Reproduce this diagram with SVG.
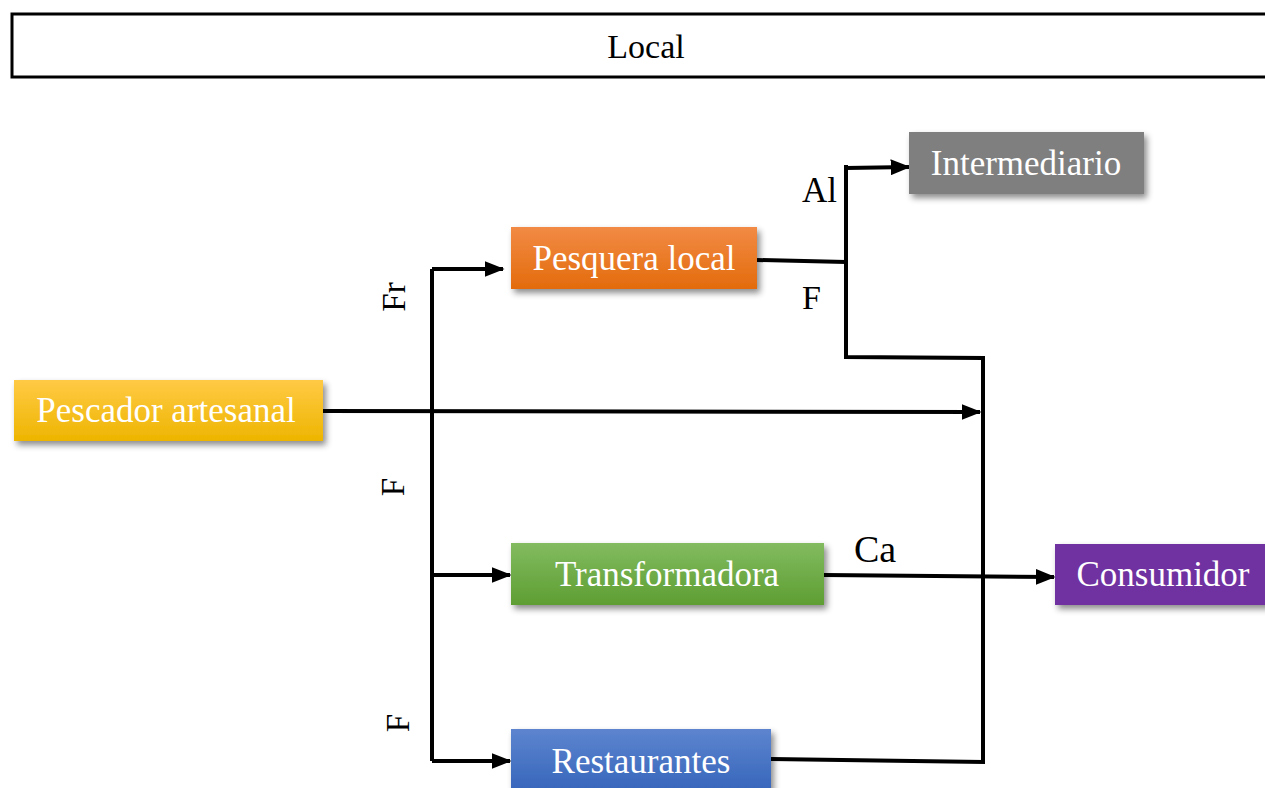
<svg xmlns="http://www.w3.org/2000/svg" width="1265" height="788" viewBox="0 0 1265 788">
<style>
.t{font-family:"Liberation Serif","Times New Roman",serif;font-size:35px;fill:#fff;text-anchor:middle}
.l{font-family:"Liberation Serif","Times New Roman",serif;font-size:34px;fill:#000}
.c{fill:none;stroke:#000;stroke-width:4}
</style>
<defs>
<filter id="sh" x="-10%" y="-20%" width="125%" height="160%">
<feDropShadow dx="3" dy="4" stdDeviation="3" flood-color="#000" flood-opacity="0.45"/>
</filter>
<linearGradient id="gO" x1="0" y1="0" x2="0" y2="1"><stop offset="0" stop-color="#f28b45"/><stop offset="1" stop-color="#e36b0c"/></linearGradient>
<linearGradient id="gY" x1="0" y1="0" x2="0" y2="1"><stop offset="0" stop-color="#ffca45"/><stop offset="1" stop-color="#eeb500"/></linearGradient>
<linearGradient id="gG" x1="0" y1="0" x2="0" y2="1"><stop offset="0" stop-color="#82bb60"/><stop offset="1" stop-color="#5e9e32"/></linearGradient>
<linearGradient id="gB" x1="0" y1="0" x2="0" y2="1"><stop offset="0" stop-color="#5d85cf"/><stop offset="1" stop-color="#3262b8"/></linearGradient>
<marker id="ar" markerWidth="5" markerHeight="4" refX="4.6" refY="2" orient="auto" markerUnits="strokeWidth">
<path d="M0,0 L5,2 L0,4 Z" fill="#000"/>
</marker>
</defs>
<rect width="1265" height="788" fill="#fff"/>

<g id="local">
<rect x="12" y="14" width="1262" height="63" fill="#fff" stroke="#000" stroke-width="3"/>
<text class="l" x="646" y="58" text-anchor="middle">Local</text>
</g>

<g id="connectors">
<path class="c" d="M432,269 V761"/>
<path class="c" d="M432,269 H503" marker-end="url(#ar)"/>
<path class="c" d="M432,575 H510" marker-end="url(#ar)"/>
<path class="c" d="M432,761 H510" marker-end="url(#ar)"/>
<path class="c" d="M323,411 L980,412" marker-end="url(#ar)"/>
<path class="c" d="M757,260 L846,262"/>
<path class="c" d="M846,165 V357 L983,358 V762 L771,759"/>
<path class="c" d="M846,168 L909,167" marker-end="url(#ar)"/>
<path class="c" d="M824,575 L1054,577" marker-end="url(#ar)"/>
<text class="l" x="802" y="202" style="font-size:35px">Al</text>
<text class="l" x="802" y="309">F</text>
<text class="l" x="854" y="562" style="font-size:38px">Ca</text>
<text class="l" transform="translate(405,297) rotate(-90)" text-anchor="middle" style="font-size:33px">Fr</text>
<text class="l" transform="translate(404,487) rotate(-90)" text-anchor="middle" style="font-size:33px">F</text>
<text class="l" transform="translate(409,723) rotate(-90)" text-anchor="middle" style="font-size:33px">F</text>
</g>

<g id="intermediario">
<rect x="909" y="132" width="235" height="62" fill="#7f7f7f" filter="url(#sh)"/>
<text class="t" x="1026" y="175">Intermediario</text>
</g>
<g id="pesquera">
<rect x="511" y="227" width="246" height="62" fill="url(#gO)" filter="url(#sh)"/>
<text class="t" x="634" y="270">Pesquera local</text>
</g>
<g id="pescador">
<rect x="14" y="380" width="309" height="61" fill="url(#gY)" filter="url(#sh)"/>
<text class="t" x="166" y="422">Pescador artesanal</text>
</g>
<g id="transformadora">
<rect x="511" y="543" width="313" height="62" fill="url(#gG)" filter="url(#sh)"/>
<text class="t" x="667" y="586">Transformadora</text>
</g>
<g id="consumidor">
<rect x="1055" y="544" width="220" height="61" fill="#7030a0" filter="url(#sh)"/>
<text class="t" x="1163" y="586">Consumidor</text>
</g>
<g id="restaurantes">
<rect x="511" y="729" width="260" height="70" fill="url(#gB)" filter="url(#sh)"/>
<text class="t" x="641" y="773">Restaurantes</text>
</g>
</svg>
